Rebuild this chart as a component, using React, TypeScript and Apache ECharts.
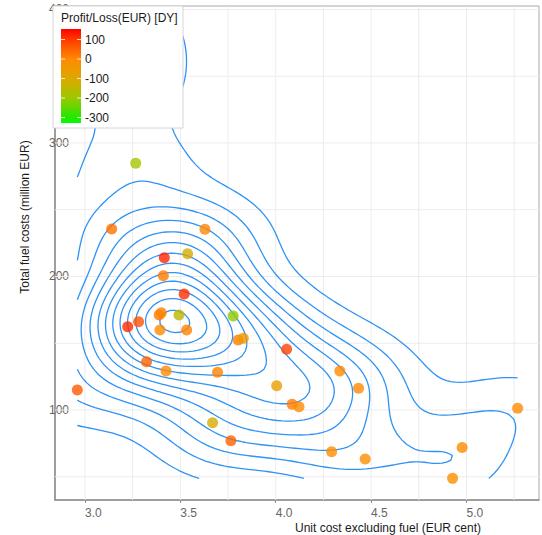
import React, { useEffect, useRef } from "react";
import * as echarts from "echarts";

// ---- data (the last two points sit under the legend box) ----
const unitCost = [
  3.266, 3.14, 3.629, 3.416, 3.538, 3.411, 3.52, 3.389, 3.4, 3.493,
  3.224, 3.281, 3.393, 3.533, 3.777, 3.803, 3.83, 4.057, 3.695, 3.323,
  3.425, 4.005, 4.086, 4.122, 3.669, 3.765, 4.336, 4.434, 4.293, 4.469,
  4.977, 4.927, 5.268, 2.96, 3.22, 3.24,
];
const fuelCost = [
  284.8, 235.6, 235.4, 214.1, 217.1, 200.6, 186.9, 171.2, 172.9, 171.2,
  162.4, 166.1, 160.0, 159.9, 170.4, 152.4, 153.7, 145.5, 128.2, 136.2,
  129.2, 118.2, 104.3, 102.5, 90.5, 77.0, 129.2, 116.3, 68.8, 63.3,
  72.0, 48.8, 101.3, 115.0, 386.0, 345.0,
];
const profitLoss = [
  -190, 30, 5, 120, -110, 15, 110, 20, 10, -150,
  115, 70, 0, 10, -210, 15, -50, 90, 10, 50,
  0, -70, 20, 0, -110, 50, 0, 0, -10, -10,
  -5, -10, 0, 60, -50, -20,
];

const xTickValues = [3.0, 3.5, 4.0, 4.5, 5.0];
const yTickValues = [100, 200, 300, 400];
const xGridValues = [3.0, 3.25, 3.5, 3.75, 4.0, 4.25, 4.5, 4.75, 5.0, 5.25];
const yGridValues = [50, 100, 150, 200, 250, 300, 350, 400];
const legendTickValues = [100, 0, -100, -200, -300];
const colorStopValues = [154, 100, 0, -100, -200, -300, -328];
const colorStopColors = ["#ff0000", "#ff3a00", "#ff8a00", "#dda800", "#9cc800", "#22e800", "#00ff00"];

const X_MIN = 2.843, X_MAX = 5.38, Y_MIN = 32.6, Y_MAX = 402.6;

// ---- helpers ----
function hexToRgb(h: string) {
  return [parseInt(h.slice(1, 3), 16), parseInt(h.slice(3, 5), 16), parseInt(h.slice(5, 7), 16)];
}
function colorFor(v: number) {
  const vals = colorStopValues;
  if (v >= vals[0]) return colorStopColors[0];
  for (let i = 0; i < vals.length - 1; i++) {
    if (v <= vals[i] && v >= vals[i + 1]) {
      const t = (vals[i] - v) / (vals[i] - vals[i + 1]);
      const a = hexToRgb(colorStopColors[i]), b = hexToRgb(colorStopColors[i + 1]);
      const c = a.map((q, k) => Math.round(q + (b[k] - q) * t));
      return `rgb(${c[0]},${c[1]},${c[2]})`;
    }
  }
  return colorStopColors[colorStopColors.length - 1];
}

function quantile(sorted: number[], p: number) {
  const h = (sorted.length - 1) * p;
  const lo = Math.floor(h);
  const hi = Math.min(lo + 1, sorted.length - 1);
  return sorted[lo] + (h - lo) * (sorted[hi] - sorted[lo]);
}
function bandwidthNrd(arr: number[]) {
  const n = arr.length;
  const mean = arr.reduce((s, v) => s + v, 0) / n;
  const sd = Math.sqrt(arr.reduce((s, v) => s + (v - mean) ** 2, 0) / (n - 1));
  const s = [...arr].sort((a, b) => a - b);
  const iqr = quantile(s, 0.75) - quantile(s, 0.25);
  return 4 * 1.06 * Math.min(sd, iqr / 1.34) * Math.pow(n, -0.2);
}
function pretty(lo: number, hi: number, n: number) {
  const cell = (hi - lo) / n;
  const U = Math.pow(10, Math.floor(Math.log10(cell)));
  let unit = U;
  const h = 1.5, h5 = 0.5 + 1.5 * h;
  if (2 * U - cell < h * (cell - unit)) {
    unit = 2 * U;
    if (5 * U - cell < h5 * (cell - unit)) {
      unit = 5 * U;
      if (10 * U - cell < h * (cell - unit)) unit = 10 * U;
    }
  }
  const ns = Math.floor(lo / unit + 1e-7), nu = Math.ceil(hi / unit - 1e-7);
  const out: number[] = [];
  for (let k = ns; k <= nu; k++) out.push(k * unit);
  return out;
}

function computeContours() {
  const n = unitCost.length;
  const hx = bandwidthNrd(unitCost) / 4;
  const hy = bandwidthNrd(fuelCost) / 4;
  const G = 100;
  const x0 = Math.min(...unitCost), x1 = Math.max(...unitCost);
  const y0 = Math.min(...fuelCost), y1 = Math.max(...fuelCost);
  const gx = Array.from({ length: G }, (_, i) => x0 + ((x1 - x0) * i) / (G - 1));
  const gy = Array.from({ length: G }, (_, j) => y0 + ((y1 - y0) * j) / (G - 1));
  const phi = (u: number) => Math.exp(-0.5 * u * u) / Math.sqrt(2 * Math.PI);
  const z: number[][] = [];
  let zmin = Infinity, zmax = -Infinity;
  for (let i = 0; i < G; i++) {
    z.push([]);
    for (let j = 0; j < G; j++) {
      let s = 0;
      for (let k = 0; k < n; k++) s += phi((gx[i] - unitCost[k]) / hx) * phi((gy[j] - fuelCost[k]) / hy);
      s /= n * hx * hy;
      z[i].push(s);
      zmin = Math.min(zmin, s);
      zmax = Math.max(zmax, s);
    }
  }
  const levels = pretty(zmin, zmax, 10);
  const lines: number[][][] = [];
  for (const L of levels) {
    const segs: { k1: string; p1: number[]; k2: string; p2: number[] }[] = [];
    const interp = (xa: number, ya: number, va: number, xb: number, yb: number, vb: number) => {
      const t = (L - va) / (vb - va);
      return [xa + (xb - xa) * t, ya + (yb - ya) * t];
    };
    for (let i = 0; i < G - 1; i++) {
      for (let j = 0; j < G - 1; j++) {
        const a = z[i][j], b = z[i + 1][j], c = z[i + 1][j + 1], d = z[i][j + 1];
        const A = a >= L, B = b >= L, C = c >= L, D = d >= L;
        const e: Record<string, { k: string; p: number[] }> = {};
        if (A !== B) e.bottom = { k: `h${i}_${j}`, p: interp(gx[i], gy[j], a, gx[i + 1], gy[j], b) };
        if (B !== C) e.right = { k: `v${i + 1}_${j}`, p: interp(gx[i + 1], gy[j], b, gx[i + 1], gy[j + 1], c) };
        if (D !== C) e.top = { k: `h${i}_${j + 1}`, p: interp(gx[i], gy[j + 1], d, gx[i + 1], gy[j + 1], c) };
        if (A !== D) e.left = { k: `v${i}_${j}`, p: interp(gx[i], gy[j], a, gx[i], gy[j + 1], d) };
        const names = Object.keys(e);
        const add = (m: string, q: string) => segs.push({ k1: e[m].k, p1: e[m].p, k2: e[q].k, p2: e[q].p });
        if (names.length === 2) add(names[0], names[1]);
        else if (names.length === 4) {
          const center = (a + b + c + d) / 4 >= L;
          if (A === center) { add("bottom", "right"); add("top", "left"); }
          else { add("bottom", "left"); add("top", "right"); }
        }
      }
    }
    const byKey: Record<string, number[]> = {};
    segs.forEach((s, idx) => {
      (byKey[s.k1] = byKey[s.k1] || []).push(idx);
      (byKey[s.k2] = byKey[s.k2] || []).push(idx);
    });
    const used = new Array(segs.length).fill(false);
    const walk = (startKey: string, out: number[][]) => {
      let key = startKey;
      for (;;) {
        const cand = (byKey[key] || []).find((s) => !used[s]);
        if (cand === undefined) break;
        used[cand] = true;
        const s = segs[cand];
        if (s.k1 === key) { out.push(s.p2); key = s.k2; } else { out.push(s.p1); key = s.k1; }
      }
    };
    for (let idx = 0; idx < segs.length; idx++) {
      if (used[idx]) continue;
      used[idx] = true;
      const s = segs[idx];
      const fwd: number[][] = [];
      walk(s.k2, fwd);
      const bwd: number[][] = [];
      walk(s.k1, bwd);
      const pl = [...bwd.reverse(), s.p1, s.p2, ...fwd];
      if (pl.length > 2) lines.push(pl);
    }
  }
  return lines;
}

export default function App() {
  const ref = useRef<HTMLDivElement>(null);
  useEffect(() => {
    if (!ref.current) return;
    const chart = echarts.init(ref.current, null, { renderer: "svg" });
    const contours = computeContours();
    const font = "Liberation Sans, Arial, sans-serif";

    const barX = 61, barY = 29, barW = 20, barH = 94;
    const vTop = colorStopValues[0], vBot = colorStopValues[colorStopValues.length - 1];
    const vToY = (v: number) => barY + ((vTop - v) / (vTop - vBot)) * barH;
    const gradient = new echarts.graphic.LinearGradient(
      0, 0, 0, 1,
      colorStopValues.map((v, i) => ({ offset: (vTop - v) / (vTop - vBot), color: colorStopColors[i] }))
    );

    const legendElements: any[] = [
      { type: "rect", shape: { x: 53, y: 6, width: 130, height: 122 }, style: { fill: "#ffffff", stroke: "#d6d6d6", lineWidth: 1 }, z: 100 },
      { type: "text", x: 61, y: 18, style: { text: "Profit/Loss(EUR) [DY]", font: `12px ${font}`, fill: "#1a1a1a", verticalAlign: "middle" }, z: 101 },
      { type: "rect", shape: { x: barX, y: barY, width: barW, height: barH }, style: { fill: gradient }, z: 101 },
    ];
    legendTickValues.forEach((v) => {
      const y = vToY(v);
      legendElements.push(
        { type: "line", shape: { x1: barX, y1: y, x2: barX + 4, y2: y }, style: { stroke: "#ffffff", lineWidth: 1, opacity: 0.8 }, z: 102 },
        { type: "line", shape: { x1: barX + barW - 4, y1: y, x2: barX + barW, y2: y }, style: { stroke: "#ffffff", lineWidth: 1, opacity: 0.8 }, z: 102 },
        { type: "text", x: 85, y, style: { text: String(v), font: `12px ${font}`, fill: "#1a1a1a", verticalAlign: "middle" }, z: 102 }
      );
    });

    const option: any = {
      animation: false,
      backgroundColor: "#ffffff",
      grid: { left: 55, right: 3, top: 6, bottom: 35, show: true, borderColor: "#a8a8a8", borderWidth: 1, backgroundColor: "#ffffff" },
      xAxis: {
        type: "value",
        min: X_MIN,
        max: X_MAX,
        splitLine: { show: false },
        axisLine: { show: true, onZero: false, lineStyle: { color: "#8c8c8c", width: 1.5 } },
        axisTick: { show: true, length: 3, customValues: xTickValues, lineStyle: { color: "#8c8c8c" } },
        axisLabel: {
          customValues: xTickValues,
          formatter: (v: number) => v.toFixed(1),
          align: "left",
          margin: 7,
          color: "#666666",
          fontSize: 12,
          fontFamily: font,
        },
      },
      yAxis: {
        type: "value",
        min: Y_MIN,
        max: Y_MAX,
        splitLine: { show: false },
        axisLine: { show: true, onZero: false, lineStyle: { color: "#8c8c8c", width: 1.5 } },
        axisTick: { show: false, customValues: yTickValues },
        axisLabel: {
          customValues: yTickValues,
          formatter: (v: number) => String(v),
          align: "left",
          margin: 6,
          color: "#666666",
          fontSize: 12,
          fontFamily: font,
        },
      },
      series: [
        {
          type: "custom",
          z: 1,
          silent: true,
          data: xGridValues.map((v) => [v, Y_MIN]),
          renderItem: (params: any, api: any) => {
            const cs = params.coordSys;
            const p = api.coord([api.value(0), api.value(1)]);
            return { type: "line", shape: { x1: p[0], y1: cs.y, x2: p[0], y2: cs.y + cs.height }, style: { stroke: "#ececec", lineWidth: 1 } };
          },
        },
        {
          type: "custom",
          z: 1,
          silent: true,
          data: yGridValues.map((v) => [X_MIN, v]),
          renderItem: (params: any, api: any) => {
            const cs = params.coordSys;
            const p = api.coord([api.value(0), api.value(1)]);
            return { type: "line", shape: { x1: cs.x, y1: p[1], x2: cs.x + cs.width, y2: p[1] }, style: { stroke: "#ececec", lineWidth: 1 } };
          },
        },
        {
          type: "custom",
          z: 2,
          silent: true,
          data: contours.map((pl, i) => [pl[0][0], pl[0][1], i]),
          renderItem: (params: any, api: any) => {
            const pl = contours[api.value(2)];
            return {
              type: "polyline",
              shape: { points: pl.map((pt) => api.coord(pt)) },
              style: { stroke: "#2f93f5", lineWidth: 1.3, fill: "none" },
            };
          },
        },
        {
          type: "scatter",
          z: 3,
          symbolSize: 11,
          data: unitCost.map((x, i) => ({
            value: [x, fuelCost[i], profitLoss[i]],
            itemStyle: { color: colorFor(profitLoss[i]) },
          })),
        },
      ],
      graphic: [
        ...legendElements,
        {
          type: "text",
          x: 25,
          y: 217,
          rotation: Math.PI / 2,
          style: { text: "Total fuel costs (million EUR)", font: `12px ${font}`, fill: "#1a1a1a", align: "center", verticalAlign: "middle" },
        },
        {
          type: "text",
          x: 388,
          y: 528,
          style: { text: "Unit cost excluding fuel (EUR cent)", font: `12px ${font}`, fill: "#1a1a1a", align: "center", verticalAlign: "middle" },
        },
      ],
    };
    chart.setOption(option);
    return () => chart.dispose();
  }, []);
  return (
    <div
      ref={ref}
      style={{ position: "fixed", left: 0, top: 0, width: 542, height: 535, background: "#fff" }}
    />
  );
}
